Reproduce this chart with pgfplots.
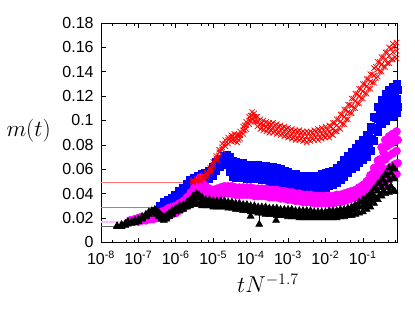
\documentclass[border=0pt]{standalone}
\usepackage{pgfplots}
\pgfplotsset{compat=1.18}
\usepackage{pgfplotstable}
\usepackage{fontspec}
\setmainfont{Liberation Sans}
\definecolor{gpred}{RGB}{255,0,0}
\definecolor{gpblue}{RGB}{0,0,255}
\definecolor{gpmag}{RGB}{255,0,255}

\pgfplotstableread{
lx lo mid hi
-5.54 0.049 0.050 0.051
-5.45 0.050 0.051 0.052
-5.35 0.050 0.052 0.054
-5.25 0.052 0.053 0.055
-5.17 0.053 0.055 0.057
-5.08 0.057 0.059 0.061
-5.00 0.062 0.064 0.066
-4.92 0.067 0.069 0.071
-4.84 0.071 0.074 0.076
-4.76 0.076 0.078 0.081
-4.68 0.079 0.081 0.084
-4.60 0.081 0.084 0.086
-4.52 0.083 0.086 0.088
-4.44 0.083 0.085 0.089
-4.36 0.082 0.085 0.088
-4.28 0.085 0.088 0.091
-4.20 0.089 0.092 0.095
-4.12 0.093 0.096 0.099
-4.04 0.097 0.100 0.103
-3.96 0.101 0.104 0.107
-3.90 0.099 0.103 0.106
-3.82 0.095 0.099 0.103
-3.74 0.093 0.097 0.101
-3.66 0.092 0.096 0.100
-3.58 0.091 0.095 0.099
-3.50 0.090 0.095 0.098
-3.40 0.090 0.094 0.098
-3.30 0.089 0.093 0.097
-3.20 0.088 0.092 0.096
-3.10 0.087 0.091 0.095
-3.00 0.086 0.090 0.094
-2.90 0.085 0.089 0.093
-2.80 0.084 0.088 0.092
-2.70 0.084 0.088 0.092
-2.60 0.083 0.087 0.091
-2.50 0.082 0.087 0.091
-2.40 0.083 0.087 0.091
-2.30 0.084 0.088 0.092
-2.20 0.084 0.089 0.093
-2.10 0.085 0.089 0.094
-2.00 0.086 0.090 0.095
-1.90 0.086 0.091 0.096
-1.80 0.088 0.093 0.098
-1.70 0.091 0.096 0.101
-1.60 0.093 0.099 0.105
-1.50 0.097 0.103 0.109
-1.40 0.101 0.107 0.113
-1.30 0.106 0.112 0.118
-1.20 0.110 0.116 0.122
-1.10 0.114 0.120 0.126
-1.00 0.118 0.124 0.130
-0.90 0.122 0.128 0.134
-0.80 0.126 0.132 0.138
-0.70 0.131 0.137 0.143
-0.60 0.136 0.142 0.148
-0.50 0.140 0.146 0.152
-0.40 0.144 0.150 0.156
-0.30 0.147 0.153 0.160
-0.20 0.150 0.156 0.163
-0.10 0.151 0.157 0.164
}\redtab

\pgfplotstableread{
lx a b
-4.48 0.084 0.087
-4.32 0.084 0.088
-4.16 0.092 0.096
-4.00 0.100 0.104
-3.86 0.099 0.103
-3.70 0.094 0.098
-3.54 0.093 0.097
-3.45 0.092 0.097
-3.35 0.091 0.096
-3.25 0.090 0.095
-3.15 0.089 0.094
-3.05 0.088 0.093
-2.95 0.087 0.092
-2.85 0.086 0.091
-2.75 0.085 0.091
-2.65 0.085 0.090
-2.55 0.084 0.090
-2.45 0.084 0.090
-2.35 0.085 0.090
-2.25 0.086 0.091
-2.15 0.086 0.092
-2.05 0.087 0.092
-1.95 0.088 0.093
-1.85 0.089 0.095
-1.75 0.091 0.098
-1.65 0.094 0.101
-1.55 0.097 0.105
-1.45 0.101 0.109
-1.35 0.106 0.113
-1.25 0.110 0.118
-1.15 0.114 0.122
-1.05 0.118 0.126
-0.95 0.122 0.130
-0.85 0.126 0.134
-0.75 0.131 0.138
-0.65 0.135 0.144
-0.55 0.140 0.148
-0.45 0.144 0.152
-0.35 0.147 0.156
-0.25 0.150 0.159
-0.15 0.152 0.161
}\redextra

\pgfplotstableread{
lx lo mid hi
-6.42 0.028 0.029 0.030
-6.32 0.029 0.031 0.033
-6.22 0.031 0.033 0.035
-6.12 0.033 0.035 0.037
-6.02 0.034 0.037 0.039
-5.92 0.037 0.040 0.042
-5.82 0.040 0.043 0.045
-5.72 0.043 0.046 0.048
-5.62 0.046 0.049 0.051
-5.52 0.048 0.051 0.053
-5.42 0.049 0.052 0.055
-5.32 0.050 0.053 0.056
-5.22 0.050 0.054 0.057
-5.12 0.052 0.056 0.059
-5.02 0.055 0.059 0.062
-4.92 0.059 0.063 0.066
-4.82 0.062 0.066 0.069
-4.72 0.064 0.068 0.071
-4.63 0.064 0.069 0.072
-4.55 0.058 0.066 0.070
-4.47 0.054 0.062 0.067
-4.40 0.053 0.060 0.066
-4.30 0.053 0.059 0.065
-4.20 0.053 0.059 0.065
-4.10 0.052 0.058 0.064
-4.00 0.052 0.058 0.064
-3.90 0.052 0.058 0.063
-3.80 0.052 0.058 0.064
-3.70 0.051 0.057 0.063
-3.60 0.051 0.057 0.063
-3.50 0.050 0.056 0.062
-3.40 0.050 0.056 0.062
-3.30 0.049 0.055 0.061
-3.20 0.048 0.054 0.060
-3.10 0.047 0.053 0.059
-3.00 0.046 0.052 0.058
-2.90 0.045 0.051 0.056
-2.80 0.045 0.051 0.056
-2.70 0.044 0.050 0.055
-2.60 0.044 0.050 0.055
-2.50 0.044 0.050 0.055
-2.40 0.044 0.050 0.055
-2.30 0.044 0.050 0.055
-2.20 0.044 0.050 0.055
-2.10 0.044 0.050 0.056
-2.00 0.045 0.051 0.057
-1.90 0.046 0.052 0.058
-1.80 0.047 0.053 0.059
-1.70 0.049 0.055 0.061
-1.60 0.051 0.058 0.064
-1.50 0.054 0.061 0.068
-1.40 0.057 0.064 0.071
-1.30 0.060 0.067 0.074
-1.20 0.062 0.070 0.078
-1.10 0.065 0.073 0.081
-1.00 0.068 0.076 0.084
-0.90 0.070 0.079 0.088
-0.80 0.075 0.085 0.095
-0.70 0.083 0.093 0.103
-0.60 0.091 0.101 0.111
-0.50 0.097 0.107 0.117
-0.40 0.100 0.111 0.122
-0.30 0.103 0.114 0.125
-0.20 0.104 0.116 0.128
-0.10 0.106 0.118 0.130
}\bluetab

\pgfplotstableread{
lx a b
-1.55 0.056 0.063
-1.45 0.058 0.067
-1.35 0.061 0.070
-1.25 0.064 0.073
-1.15 0.067 0.076
-1.05 0.070 0.079
-0.95 0.073 0.082
-0.85 0.077 0.087
-0.75 0.084 0.094
-0.65 0.092 0.102
-0.55 0.099 0.109
-0.45 0.104 0.114
-0.35 0.107 0.118
-0.25 0.109 0.121
-0.15 0.111 0.123
-0.07 0.111 0.125
}\blueextra

\pgfplotstableread{
lx lo mid hi
-7.22 0.0170 0.0175 0.0180
-7.10 0.0175 0.0180 0.0190
-7.00 0.0170 0.0185 0.0200
-6.90 0.0180 0.0190 0.0210
-6.80 0.0180 0.0195 0.0210
-6.70 0.0190 0.0200 0.0220
-6.60 0.0190 0.0210 0.0230
-6.50 0.0200 0.0215 0.0240
-6.40 0.0200 0.0220 0.0250
-6.30 0.0210 0.0230 0.0260
-6.20 0.0220 0.0250 0.0280
-6.10 0.0230 0.0260 0.0290
-6.00 0.0240 0.0270 0.0300
-5.90 0.0260 0.0290 0.0320
-5.80 0.0280 0.0310 0.0340
-5.70 0.0300 0.0340 0.0370
-5.60 0.0330 0.0370 0.0410
-5.50 0.0370 0.0410 0.0450
-5.40 0.0410 0.0460 0.0500
-5.35 0.0440 0.0500 0.0530
-5.27 0.0410 0.0450 0.0480
-5.20 0.0390 0.0430 0.0460
-5.10 0.0370 0.0410 0.0440
-5.00 0.0370 0.0400 0.0430
-4.90 0.0380 0.0410 0.0440
-4.80 0.0390 0.0420 0.0450
-4.70 0.0400 0.0430 0.0460
-4.60 0.0400 0.0430 0.0460
-4.50 0.0400 0.0430 0.0460
-4.40 0.0390 0.0420 0.0450
-4.30 0.0390 0.0420 0.0450
-4.20 0.0390 0.0420 0.0450
-4.10 0.0390 0.0420 0.0450
-4.00 0.0390 0.0420 0.0450
-3.90 0.0380 0.0410 0.0440
-3.80 0.0380 0.0410 0.0440
-3.70 0.0380 0.0410 0.0440
-3.60 0.0380 0.0410 0.0440
-3.50 0.0370 0.0400 0.0430
-3.40 0.0370 0.0400 0.0430
-3.30 0.0370 0.0400 0.0430
-3.20 0.0360 0.0390 0.0420
-3.10 0.0360 0.0390 0.0420
-3.00 0.0350 0.0380 0.0410
-2.90 0.0350 0.0380 0.0410
-2.80 0.0340 0.0370 0.0400
-2.70 0.0340 0.0370 0.0400
-2.60 0.0330 0.0360 0.0390
-2.50 0.0330 0.0360 0.0390
-2.40 0.0330 0.0360 0.0390
-2.30 0.0320 0.0350 0.0380
-2.20 0.0320 0.0350 0.0380
-2.10 0.0320 0.0350 0.0380
-2.00 0.0320 0.0350 0.0380
-1.90 0.0320 0.0350 0.0380
-1.80 0.0320 0.0350 0.0380
-1.70 0.0330 0.0360 0.0390
-1.60 0.0330 0.0360 0.0390
-1.50 0.0340 0.0370 0.0400
-1.40 0.0350 0.0380 0.0410
-1.30 0.0360 0.0390 0.0420
-1.20 0.0370 0.0400 0.0430
-1.10 0.0380 0.0410 0.0450
-1.00 0.0390 0.0430 0.0470
-0.90 0.0400 0.0450 0.0500
-0.80 0.0420 0.0480 0.0550
-0.70 0.0440 0.0520 0.0610
-0.60 0.0460 0.0560 0.0670
-0.50 0.0480 0.0620 0.0780
-0.40 0.0500 0.0680 0.0840
-0.30 0.0520 0.0710 0.0870
-0.20 0.0540 0.0730 0.0890
-0.10 0.0560 0.0750 0.0910
}\magtab

\pgfplotstableread{
lx a b
-0.95 0.042 0.047
-0.85 0.043 0.051
-0.75 0.046 0.056
-0.65 0.049 0.061
-0.55 0.052 0.068
-0.45 0.056 0.074
-0.35 0.060 0.079
-0.25 0.062 0.081
-0.15 0.064 0.083
-0.07 0.065 0.084
}\magextra

\pgfplotstableread{
lx lo mid hi
-7.57 0.0128 0.0132 0.0135
-7.45 0.0130 0.0140 0.0145
-7.35 0.0140 0.0150 0.0155
-7.28 0.0150 0.0160 0.0170
-7.18 0.0155 0.0165 0.0170
-7.09 0.0160 0.0170 0.0180
-7.00 0.0170 0.0180 0.0190
-6.90 0.0190 0.0200 0.0210
-6.80 0.0210 0.0220 0.0230
-6.72 0.0230 0.0240 0.0250
-6.64 0.0240 0.0250 0.0260
-6.56 0.0250 0.0260 0.0270
-6.50 0.0230 0.0240 0.0260
-6.44 0.0210 0.0220 0.0240
-6.38 0.0190 0.0200 0.0220
-6.32 0.0180 0.0190 0.0210
-6.25 0.0190 0.0200 0.0220
-6.18 0.0210 0.0220 0.0240
-6.10 0.0230 0.0240 0.0260
-6.00 0.0250 0.0260 0.0280
-5.90 0.0260 0.0280 0.0300
-5.80 0.0270 0.0290 0.0310
-5.70 0.0290 0.0310 0.0330
-5.62 0.0300 0.0320 0.0350
-5.54 0.0310 0.0350 0.0380
-5.45 0.0320 0.0370 0.0400
-5.38 0.0310 0.0360 0.0390
-5.30 0.0300 0.0340 0.0370
-5.20 0.0300 0.0330 0.0350
-5.10 0.0300 0.0330 0.0350
-5.00 0.0290 0.0320 0.0340
-4.90 0.0290 0.0320 0.0340
-4.80 0.0290 0.0320 0.0340
-4.70 0.0290 0.0320 0.0340
-4.60 0.0280 0.0310 0.0330
-4.50 0.0280 0.0310 0.0330
-4.40 0.0270 0.0300 0.0320
-4.30 0.0270 0.0300 0.0320
-4.20 0.0260 0.0290 0.0310
-4.10 0.0260 0.0290 0.0310
-4.00 0.0250 0.0280 0.0300
-3.90 0.0250 0.0280 0.0300
-3.80 0.0240 0.0270 0.0290
-3.70 0.0240 0.0270 0.0290
-3.60 0.0230 0.0260 0.0290
-3.50 0.0230 0.0260 0.0280
-3.40 0.0230 0.0260 0.0280
-3.30 0.0220 0.0250 0.0280
-3.20 0.0220 0.0250 0.0270
-3.10 0.0220 0.0250 0.0270
-3.00 0.0210 0.0240 0.0270
-2.90 0.0210 0.0240 0.0270
-2.80 0.0210 0.0240 0.0260
-2.70 0.0200 0.0230 0.0260
-2.60 0.0200 0.0230 0.0260
-2.50 0.0200 0.0230 0.0260
-2.40 0.0200 0.0230 0.0260
-2.30 0.0200 0.0230 0.0250
-2.20 0.0200 0.0230 0.0250
-2.10 0.0200 0.0230 0.0250
-2.00 0.0200 0.0230 0.0250
-1.90 0.0200 0.0230 0.0260
-1.80 0.0200 0.0230 0.0260
-1.70 0.0200 0.0230 0.0260
-1.60 0.0210 0.0240 0.0270
-1.50 0.0210 0.0240 0.0270
-1.40 0.0220 0.0250 0.0280
-1.30 0.0220 0.0260 0.0290
-1.20 0.0230 0.0270 0.0310
-1.10 0.0240 0.0290 0.0330
-1.00 0.0250 0.0300 0.0350
-0.90 0.0270 0.0320 0.0370
-0.80 0.0290 0.0350 0.0400
-0.70 0.0320 0.0380 0.0440
-0.60 0.0350 0.0420 0.0480
-0.50 0.0380 0.0450 0.0520
-0.40 0.0400 0.0480 0.0560
-0.30 0.0410 0.0510 0.0610
-0.20 0.0420 0.0520 0.0620
-0.15 0.0420 0.0520 0.0600
}\blacktab

\pgfplotstableread{
lx a b
-0.95 0.029 0.034
-0.85 0.031 0.037
-0.75 0.033 0.040
-0.65 0.036 0.044
-0.55 0.039 0.048
-0.45 0.042 0.051
-0.35 0.045 0.055
-0.25 0.046 0.057
}\blackextra

\begin{document}
\begin{tikzpicture}
\begin{axis}[
  scale only axis,
  width=222.5pt, height=164.5pt,
  xmin=-8, xmax=-0.07, ymin=0, ymax=0.18,
  xtick={-8,-7,-6,-5,-4,-3,-2,-1},
  xticklabels={10\textsuperscript{-8},10\textsuperscript{-7},10\textsuperscript{-6},10\textsuperscript{-5},10\textsuperscript{-4},10\textsuperscript{-3},10\textsuperscript{-2},10\textsuperscript{-1}},
  minor xtick={-7.69,-7.33,-7.12,-6.69,-6.33,-6.12,-5.69,-5.33,-5.12,-4.69,-4.33,-4.12,-3.69,-3.33,-3.12,-2.69,-2.33,-2.12,-1.69,-1.33,-1.12,-0.69,-0.33,-0.12},
  ytick={0,0.02,0.04,0.06,0.08,0.1,0.12,0.14,0.16,0.18},
  scaled y ticks=false,
  /pgf/number format/assume math mode=true,
  /pgf/number format/fixed,
  /pgf/number format/precision=2,
  tick align=inside,
  major tick length=3.5pt, minor tick length=2pt,
  tick style={black, line width=0.5pt},
  axis line style={line width=0.7pt},
  yticklabel style={font=\fontsize{12}{14}\selectfont, xshift=-2pt},
  xticklabel style={font=\fontsize{12}{14}\selectfont, yshift=-3pt},
  xlabel={$tN^{-1.7}$}, ylabel={$m(t)$},
  xlabel style={at={(axis description cs:0.563,-0.188)}, anchor=center, font=\fontsize{18}{20}\selectfont},
  ylabel style={at={(axis description cs:-0.244,0.507)}, anchor=center, rotate=-90, font=\fontsize{18}{20}\selectfont},
]
% initial-time horizontal lines
\addplot[gpred!55, line width=0.5pt] coordinates {(-8,0.0496) (-5.54,0.0496)};
\addplot[gpblue!50, line width=0.6pt] coordinates {(-8,0.0285) (-6.42,0.0285)};
\addplot[gpmag!25, line width=1.6pt] coordinates {(-8,0.0167) (-7.22,0.0167)};
\addplot[black!60, line width=0.5pt] coordinates {(-8,0.0132) (-7.57,0.0132)};
% blue squares
\foreach \c in {lo,mid,hi}{
\addplot[only marks, mark=square*, mark size=2.6pt, gpblue, mark options={draw=gpblue, fill=gpblue}] table[x=lx, y=\c] {\bluetab};
}
\foreach \c in {a,b}{
\addplot[only marks, mark=square*, mark size=2.6pt, gpblue, mark options={draw=gpblue, fill=gpblue}] table[x=lx, y=\c] {\blueextra};
}
% magenta circles
\foreach \c in {lo,mid,hi}{
\addplot[only marks, mark=*, mark size=3pt, gpmag, mark options={draw=gpmag, fill=gpmag}] table[x=lx, y=\c] {\magtab};
}
\foreach \c in {a,b}{
\addplot[only marks, mark=*, mark size=3pt, gpmag, mark options={draw=gpmag, fill=gpmag}] table[x=lx, y=\c] {\magextra};
}
% black triangles
\foreach \c in {lo,mid,hi}{
\addplot[only marks, mark=triangle*, mark size=3pt, black, mark options={draw=black, fill=black}] table[x=lx, y=\c] {\blacktab};
}
\foreach \c in {a,b}{
\addplot[only marks, mark=triangle*, mark size=3pt, black, mark options={draw=black, fill=black}] table[x=lx, y=\c] {\blackextra};
}
\addplot[only marks, mark=triangle*, mark size=3pt, black] coordinates {(-4.00,0.0214) (-3.77,0.0148) (-3.32,0.0180)};
\addplot[black, line width=0.5pt] coordinates {(-3.77,0.0148) (-3.77,0.0250)};
% red crosses
\foreach \c in {lo,mid,hi}{
\addplot[only marks, mark=x, mark size=2.8pt, gpred, mark options={line width=0.55pt}] table[x=lx, y=\c] {\redtab};
}
\foreach \c in {a,b}{
\addplot[only marks, mark=x, mark size=2.8pt, gpred, mark options={line width=0.55pt}] table[x=lx, y=\c] {\redextra};
}
\coordinate (sw) at (rel axis cs:0,0);
\coordinate (ne) at (rel axis cs:1,1);
\end{axis}
\pgfresetboundingbox
\path ([shift={(-75.75pt,-49.5pt)}]sw) rectangle ([shift={(13pt,17.25pt)}]ne);
\end{tikzpicture}
\end{document}
